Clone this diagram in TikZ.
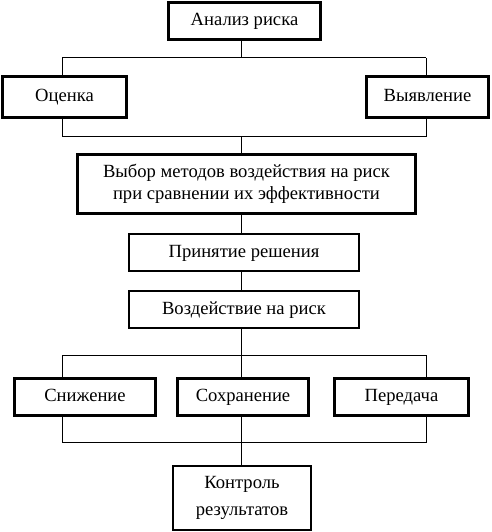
\documentclass[tikz,border=0pt]{standalone}
\usepackage{fontspec}
\setmainfont{Liberation Serif}
\begin{document}
\begin{tikzpicture}[x=1pt,y=-1pt,
  box/.style={draw,rectangle,inner sep=0pt,align=center,font=\fontsize{18.6}{21.6}\selectfont},
  oneline/.style={text height=13pt,text depth=4pt},
  thickbox/.style={box,line width=3pt},
  thinbox/.style={box,line width=2pt},
  conn/.style={line width=1pt}]
\useasboundingbox (0,0) rectangle (491,532);
\node[thickbox,oneline,minimum width=152,minimum height=37] (anal) at (244.5,21) {Анализ риска};
\node[thickbox,oneline,minimum width=124,minimum height=41] (ocen) at (64.5,97) {Оценка};
\node[thickbox,oneline,minimum width=122,minimum height=41] (vyy) at (427.5,97) {Выявление};
\node[thickbox,minimum width=338,minimum height=59] (vybor) at (246.5,184) {Выбор методов воздействия на риск\\при сравнении их эффективности};
\node[thinbox,oneline,minimum width=230,minimum height=37] (prin) at (244,252.5) {Принятие решения};
\node[thinbox,oneline,minimum width=230,minimum height=37] (vozd) at (244,309.5) {Воздействие на риск};
\node[thickbox,oneline,minimum width=141,minimum height=37] (sniz) at (85,397) {Снижение};
\node[thickbox,oneline,minimum width=131,minimum height=37] (sokh) at (243,397) {Сохранение};
\node[thickbox,oneline,minimum width=134,minimum height=37] (pered) at (401.5,397) {Передача};
\node[thinbox,minimum width=138,minimum height=64,font=\fontsize{18.6}{27}\selectfont] (kontr) at (242,498) {Контроль\\результатов};
% spine / branch coordinates
\coordinate (sp) at (241,0);
\coordinate (xl) at (62,0);
\coordinate (xr) at (426,0);
\coordinate (h1) at (0,58);
\coordinate (h2) at (0,136);
\coordinate (h3) at (0,355);
\coordinate (h4) at (0,442);
% top branch
\draw[conn] (anal.south -| sp) -- (h1 -| sp);
\draw[conn] (h1 -| xl) -- (h1 -| xr);
\draw[conn] (h1 -| xl) -- (ocen.north -| xl);
\draw[conn] (h1 -| xr) -- (vyy.north -| xr);
\draw[conn] (ocen.south -| xl) -- (h2 -| xl) -- (h2 -| xr) -- (vyy.south -| xr);
\draw[conn] (h2 -| sp) -- (vybor.north -| sp);
\draw[conn] (vybor.south -| sp) -- (prin.north -| sp);
\draw[conn] (prin.south -| sp) -- (vozd.north -| sp);
\draw[conn] (vozd.south -| sp) -- (h3 -| sp);
\draw[conn] (h3 -| xl) -- (h3 -| xr);
\draw[conn] (h3 -| xl) -- (sniz.north -| xl);
\draw[conn] (h3 -| sp) -- (sokh.north -| sp);
\draw[conn] (h3 -| xr) -- (pered.north -| xr);
\draw[conn] (sniz.south -| xl) -- (h4 -| xl) -- (h4 -| xr) -- (pered.south -| xr);
\draw[conn] (sokh.south -| sp) -- (kontr.north -| sp);
\end{tikzpicture}
\end{document}
